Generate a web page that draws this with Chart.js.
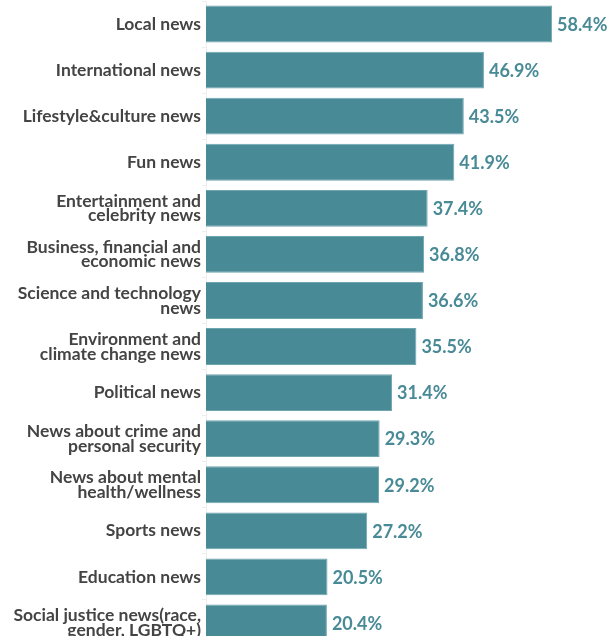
<!DOCTYPE html>
<html>
<head>
<meta charset="utf-8">
<script src="https://cdn.jsdelivr.net/npm/chart.js@4.4.1/dist/chart.umd.min.js"></script>
<style>
  html, body { margin: 0; padding: 0; background: #fff; overflow: hidden; }
  #wrap { width: 609px; height: 646px; position: relative; }
</style>
</head>
<body>
<div id="wrap"><canvas id="newsChart"></canvas></div>
<script>
const categories = [
    'Local news',
    'International news',
    'Lifestyle&culture news',
    'Fun news',
    ['Entertainment and', 'celebrity news'],
    ['Business, financial and', 'economic news'],
    ['Science and technology', 'news'],
    ['Environment and', 'climate change news'],
    'Political news',
    ['News about crime and', 'personal security'],
    ['News about mental', 'health/wellness'],
    'Sports news',
    'Education news',
    ['Social justice news(race,', 'gender, LGBTQ+)']
];
const shares = [58.4, 46.9, 43.5, 41.9, 37.4, 36.8, 36.6, 35.5, 31.4, 29.3, 29.2, 27.2, 20.5, 20.4];

const barColor = '#488a96';
const fontFamily = 'Lato, "Open Sans", sans-serif';

// value labels at the end of each bar
const valueLabels = {
    id: 'valueLabels',
    afterDatasetsDraw(chart) {
        const ctx = chart.ctx;
        const meta = chart.getDatasetMeta(0);
        ctx.save();
        ctx.font = 'bold 18px ' + fontFamily;
        ctx.fillStyle = barColor;
        ctx.textAlign = 'left';
        ctx.textBaseline = 'middle';
        meta.data.forEach((bar, i) => {
            ctx.fillText(shares[i].toFixed(1) + '%', bar.x + 5, bar.y + 1);
        });
        ctx.restore();
    }
};

const ctx = document.getElementById('newsChart').getContext('2d');
new Chart(ctx, {
    type: 'bar',
    data: {
        labels: categories,
        datasets: [{
            data: shares,
            backgroundColor: barColor,
            borderColor: '#6fa5ae',
            borderWidth: 1,
            barPercentage: 0.8,
            categoryPercentage: 1.0
        }]
    },
    options: {
        indexAxis: 'y',
        responsive: true,
        maintainAspectRatio: false,
        animation: false,
        layout: {
            padding: { top: 1, right: 0, bottom: 0, left: 0 }
        },
        plugins: {
            legend: { display: false },
            tooltip: { enabled: false }
        },
        scales: {
            x: {
                display: false,
                min: 0,
                max: 68
            },
            y: {
                afterFit(scale) {
                    scale.width = 206;
                    scale.paddingTop = 0;
                    scale.paddingBottom = 0;
                },
                border: {
                    display: true,
                    color: '#eeeeee',
                    width: 1
                },
                grid: {
                    drawOnChartArea: false,
                    drawTicks: true,
                    tickLength: 4,
                    color: '#eeeeee'
                },
                ticks: {
                    color: '#444444',
                    padding: 1,
                    font: {
                        family: fontFamily,
                        weight: 'bold',
                        size: 17.5,
                        lineHeight: 0.85
                    }
                }
            }
        }
    },
    plugins: [valueLabels]
});
</script>
</body>
</html>
